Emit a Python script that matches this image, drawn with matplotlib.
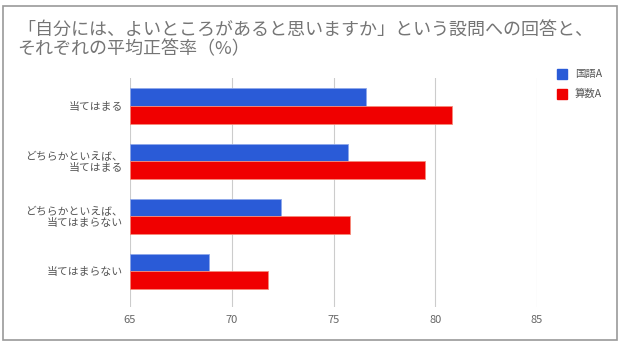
import numpy as np
import matplotlib.pyplot as plt
from matplotlib.patches import Rectangle

plt.rcParams['font.family'] = ['Noto Sans CJK JP', 'DejaVu Sans']

categories = ["当てはまる", "どちらかといえば、\n当てはまる", "どちらかといえば、\n当てはまらない", "当てはまらない"]
kokugo = [76.6, 75.7, 72.4, 68.9]
sansu = [80.8, 79.5, 75.8, 71.8]
series_names = ["国語A", "算数A"]
xticks = [65, 70, 75, 80, 85]

W, H = 627, 346
fig = plt.figure(figsize=(W / 100, H / 100), dpi=100)
ax = fig.add_axes([130 / W, 1 - 307 / H, (537 - 130) / W, (307 - 78) / H])

y = np.arange(len(categories))
bh = 0.32
ax.barh(y - bh / 2, np.array(kokugo) - 65, left=65, height=bh, color='#2a5bd7',
        edgecolor='#8fa8ea', linewidth=0.6, label=series_names[0], zorder=3)
ax.barh(y + bh / 2, np.array(sansu) - 65, left=65, height=bh, color='#f00000',
        edgecolor='#f58a7a', linewidth=0.6, label=series_names[1], zorder=3)

ax.set_xlim(65, 85)
ax.set_ylim(3.65, -0.51)
ax.set_xticks(xticks)
ax.set_yticks(y)
ax.set_yticklabels(categories, fontsize=7.8, color='#555555', linespacing=1.1)
ax.tick_params(axis='x', labelsize=8, labelcolor='#666666', length=0, pad=6)
ax.tick_params(axis='y', length=0, pad=5)
ax.grid(axis='x', color='#cccccc', linewidth=0.8, zorder=0)
for s in ax.spines.values():
    s.set_visible(False)

fig.text(17 / W, 1 - 40 / H, "「自分には、よいところがあると思いますか」という設問への回答と、\nそれぞれの平均正答率（%）",
         fontsize=13.0, color='#757575', va='center', ha='left', linespacing=1.0)

# legend
for i, (name, col) in enumerate(zip(series_names, ['#2a5bd7', '#f00000'])):
    yy = 74 + i * 20
    fig.patches.append(Rectangle((557 / W, 1 - (yy + 5) / H), 10 / W, 10 / H,
                                 transform=fig.transFigure, color=col, figure=fig))
    fig.text(575 / W, 1 - yy / H, name, fontsize=7.5, color='#555555', va='center', ha='left')

# outer frame
fig.patches.append(Rectangle((3 / W, 1 - 340 / H), 614 / W, 334 / H, transform=fig.transFigure,
                             fill=False, edgecolor='#999999', linewidth=1.2, figure=fig))

fig.savefig('out.png', dpi=100)
